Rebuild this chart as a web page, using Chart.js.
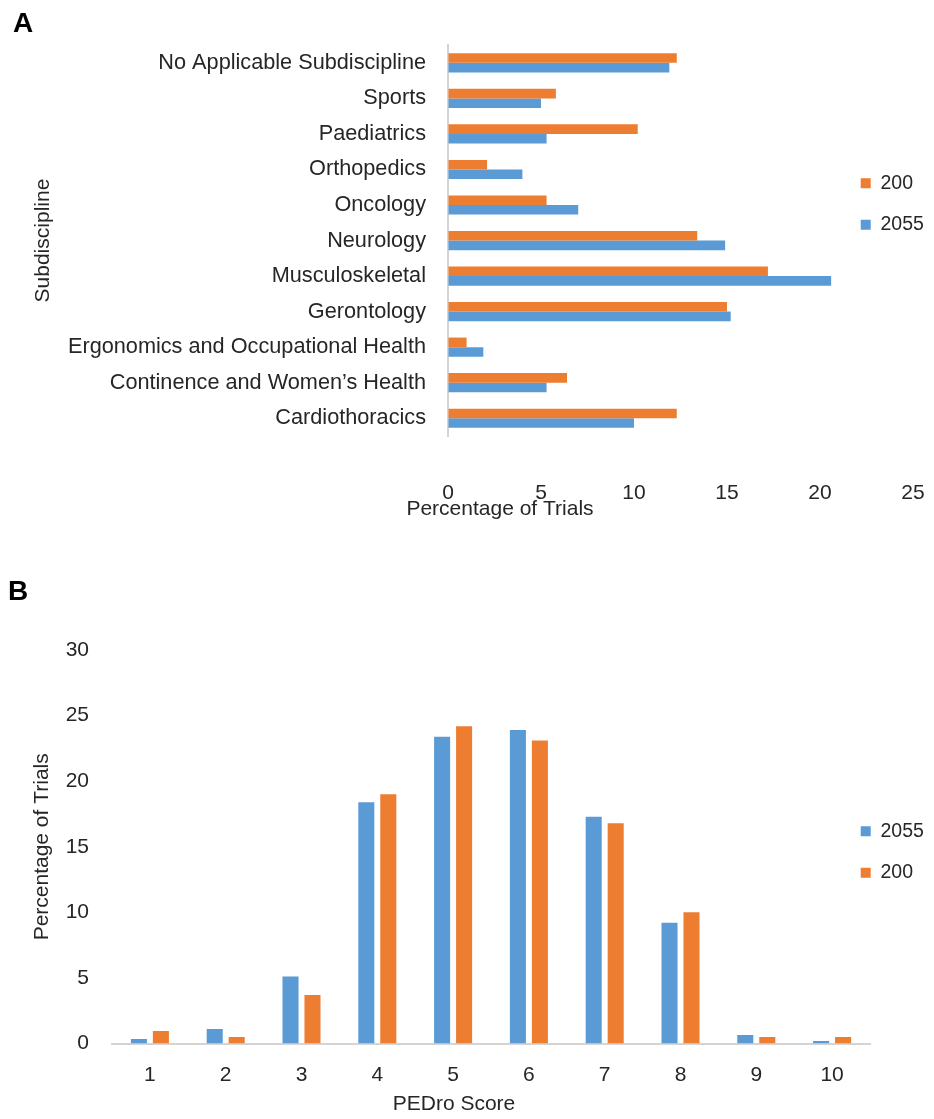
<!DOCTYPE html>
<html>
<head>
<meta charset="utf-8">
<script src="https://cdn.jsdelivr.net/npm/chart.js@4.4.1/dist/chart.umd.min.js"></script>
<style>
  body { margin: 0; background: #fff; width: 934px; height: 1119px; position: relative; overflow: hidden; }
  canvas { position: absolute; left: 0; }
  #chartA { top: 0; }
  #chartB { top: 540px; }
</style>
</head>
<body>
<canvas id="chartA" width="934" height="540"></canvas>
<canvas id="chartB" width="934" height="579"></canvas>
<script>
// panel A - subdiscipline, listed top to bottom
const subdisciplines = [
  "No Applicable Subdiscipline",
  "Sports",
  "Paediatrics",
  "Orthopedics",
  "Oncology",
  "Neurology",
  "Musculoskeletal",
  "Gerontology",
  "Ergonomics and Occupational Health",
  "Continence and Women’s Health",
  "Cardiothoracics"
];
const subdiscipline200 = [12.3, 5.8, 10.2, 2.1, 5.3, 13.4, 17.2, 15.0, 1.0, 6.4, 12.3];
const subdiscipline2055 = [11.9, 5.0, 5.3, 4.0, 7.0, 14.9, 20.6, 15.2, 1.9, 5.3, 10.0];
const percentTicksA = [0, 5, 10, 15, 20, 25];

// panel B - PEDro score distribution
const pedroScores = ["1", "2", "3", "4", "5", "6", "7", "8", "9", "10"];
const pedro2055 = [0.35, 1.1, 5.1, 18.4, 23.4, 23.9, 17.3, 9.2, 0.65, 0.2];
const pedro200 = [0.95, 0.5, 3.7, 19.0, 24.2, 23.1, 16.8, 10.0, 0.5, 0.5];
const percentTicksB = [0, 5, 10, 15, 20, 25, 30];

const BLUE = "#5B9BD5";
const ORANGE = "#ED7D31";
const TEXT = "#262626";
const FONT = '"Liberation Sans", Arial, sans-serif';

Chart.defaults.font.family = FONT;
Chart.defaults.font.size = 21;
Chart.defaults.color = TEXT;

// put the legend where excel had it (inside the plot, right side)
const legendSpot = {
  id: "legendSpot",
  afterLayout(chart, args, opts) {
    const lg = chart.legend;
    lg.left = opts.x;
    lg.right = opts.x + 90;
    lg.top = opts.y;
    lg.bottom = opts.y + 300;
  }
};

// x axis caption, excel left it off-centre
const axisCaption = {
  id: "axisCaption",
  afterDraw(chart, args, opts) {
    const ctx = chart.ctx;
    ctx.save();
    ctx.font = "21px " + FONT;
    ctx.fillStyle = TEXT;
    ctx.textAlign = "center";
    ctx.textBaseline = "middle";
    ctx.fillText(opts.text, opts.x, opts.y);
    ctx.restore();
  }
};

const legendLabels = { boxWidth: 10, boxHeight: 10, padding: 22, font: { size: 19.5 } };

// ---------- A ----------
new Chart(document.getElementById("chartA"), {
  type: "bar",
  data: {
    labels: subdisciplines,
    datasets: [
      { label: "200", data: subdiscipline200, backgroundColor: ORANGE },
      { label: "2055", data: subdiscipline2055, backgroundColor: BLUE }
    ]
  },
  options: {
    indexAxis: "y",
    responsive: false,
    animation: false,
    events: [],
    categoryPercentage: 0.54,
    barPercentage: 1.0,
    layout: { padding: { left: 13, right: 21, top: 0, bottom: 0 } },
    scales: {
      y: {
        grid: { display: false, drawTicks: false },
        border: { display: true, color: "#d4d4d4", width: 2 },
        ticks: { padding: 22, font: { size: 21.7 } },
        title: { display: true, text: "Subdiscipline", font: { size: 21 }, padding: { top: 18, bottom: 0 } },
        afterFit: (s) => { s.width = 435; }
      },
      x: {
        min: percentTicksA[0],
        max: percentTicksA[percentTicksA.length - 1],
        // invisible tick marks push the labels down without eating width
        grid: { display: true, drawOnChartArea: false, drawTicks: true, tickLength: 40, color: "rgba(0,0,0,0)" },
        border: { display: false },
        ticks: { stepSize: percentTicksA[1] - percentTicksA[0], padding: 5 },
        afterFit: (s) => { s.height = 104; }
      }
    },
    plugins: {
      title: { display: true, text: "A", align: "start", color: "#000", font: { size: 28, weight: "bold" }, padding: { top: 7, bottom: 4.5 } },
      legend: { position: "chartArea", align: "start", labels: legendLabels },
      legendSpot: { x: 838.7, y: 151.5 },
      axisCaption: { text: "Percentage of Trials", x: 500, y: 509 },
      tooltip: { enabled: false }
    }
  },
  plugins: [legendSpot, axisCaption]
});

// ---------- B ----------
new Chart(document.getElementById("chartB"), {
  type: "bar",
  data: {
    labels: pedroScores,
    datasets: [
      { label: "2055", data: pedro2055, backgroundColor: BLUE },
      { label: "200", data: pedro200, backgroundColor: ORANGE }
    ]
  },
  options: {
    responsive: false,
    animation: false,
    events: [],
    categoryPercentage: 0.58,
    barPercentage: 0.73,
    layout: { padding: { left: 8, right: 64, top: 0, bottom: 0 } },
    scales: {
      y: {
        min: percentTicksB[0],
        max: percentTicksB[percentTicksB.length - 1],
        grid: { display: false, drawTicks: false },
        border: { display: false },
        ticks: { stepSize: percentTicksB[1] - percentTicksB[0], padding: 23 },
        title: { display: true, text: "Percentage of Trials", font: { size: 21 }, padding: { top: 22, bottom: 0 } },
        afterFit: (s) => { s.width = 104; }
      },
      x: {
        grid: { display: false, drawTicks: false },
        border: { display: true, color: "#d4d4d4", width: 2 },
        ticks: { padding: 19 },
        afterFit: (s) => { s.height = 75.5; }
      }
    },
    plugins: {
      title: { display: true, text: "B", align: "start", color: "#000", font: { size: 28, weight: "bold" }, padding: { top: 35, bottom: 41.5 } },
      legend: { position: "chartArea", align: "start", labels: legendLabels },
      legendSpot: { x: 838.7, y: 259.5 },
      axisCaption: { text: "PEDro Score", x: 454, y: 564 },
      tooltip: { enabled: false }
    }
  },
  plugins: [legendSpot, axisCaption]
});
</script>
</body>
</html>
